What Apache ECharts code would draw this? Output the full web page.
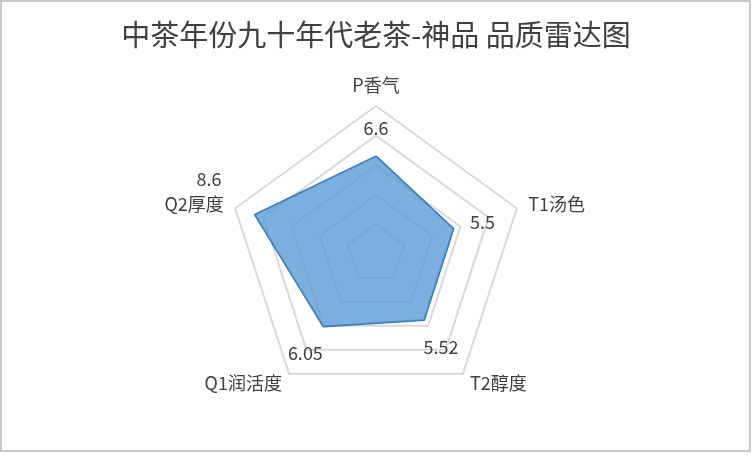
<!DOCTYPE html>
<html>
	<head>
		<meta charset="utf-8" />
		<title></title>
		<script src="https://cdn.jsdelivr.net/npm/echarts@6/dist/echarts.min.js" type="text/javascript" charset="utf-8"></script>
	</head>
	<body style="margin: 0;background: #fff;">
		<div id="chart" style="width: 752px;height: 465px;"></div>
		<script type="text/javascript">
			// indicators listed counter-clockwise from the top (echarts radar order)
			var names = ["P香气", "Q2厚度", "Q1润活度", "T2醇度", "T1汤色"];
			var values = [6.6, 8.6, 6.05, 5.52, 5.5];
			var maxValue = 10;

			// where each value label sits relative to its point
			var labelOffsets = [[0, -28], [-46, -36], [-18, 27], [17, 27], [29, -7]];

			var font = "'Noto Sans CJK SC', 'Noto Sans', sans-serif";
			var textColor = "#404040";

			var indicator = [];
			for ( var i = 0 ; i < names.length ; i ++ ){
				indicator.push({ name: names[i], max: maxValue, min: 0 });
			}

			var series = [{
				type: 'radar',
				symbol: 'none',
				z: 2,
				lineStyle: { color: '#2e75b6', width: 2 },
				areaStyle: { color: '#5b9bd5', opacity: 0.8 },
				data: [{ value: values }]
			}];

			// one invisible copy per axis, only to place its value label
			for ( var i = 0 ; i < names.length ; i ++ ){
				(function(k){
					series.push({
						type: 'radar',
						symbol: 'circle',
						symbolSize: 1,
						silent: true,
						z: 3,
						itemStyle: { color: 'rgba(0,0,0,0)' },
						lineStyle: { width: 0, opacity: 0 },
						label: {
							show: true,
							position: 'inside',
							offset: labelOffsets[k],
							color: textColor,
							fontSize: 18,
							fontFamily: font,
							formatter: function(p){
								var hit = p.dimensionIndex != null ? p.dimensionIndex === k : p.value === values[k];
								return hit ? String(values[k]) : '';
							}
						},
						data: [{ value: values }]
					});
				})(i);
			}

			var chart = echarts.init(document.getElementById("chart"));
			chart.setOption({
				animation: false,
				title: {
					text: '中茶年份九十年代老茶-神品 品质雷达图',
					left: 'center',
					top: 15,
					textStyle: { color: textColor, fontSize: 29, fontWeight: 'normal', fontFamily: font }
				},
				graphic: [{
					type: 'rect',
					shape: { x: 1, y: 1, width: 749, height: 450 },
					style: { fill: 'none', stroke: '#c8c8c8', lineWidth: 2 },
					silent: true
				}],
				radar: {
					center: [376, 254],
					radius: 148,
					startAngle: 90,
					splitNumber: 5,
					shape: 'polygon',
					indicator: indicator,
					nameGap: 12,
					axisName: { color: textColor, fontSize: 18, fontFamily: font },
					axisLine: { show: false },
					axisTick: { show: false },
					axisLabel: { show: false },
					splitArea: { show: false },
					splitLine: { lineStyle: { color: '#d9d9d9', width: 2 } }
				},
				series: series
			});
		</script>
	</body>
</html>
